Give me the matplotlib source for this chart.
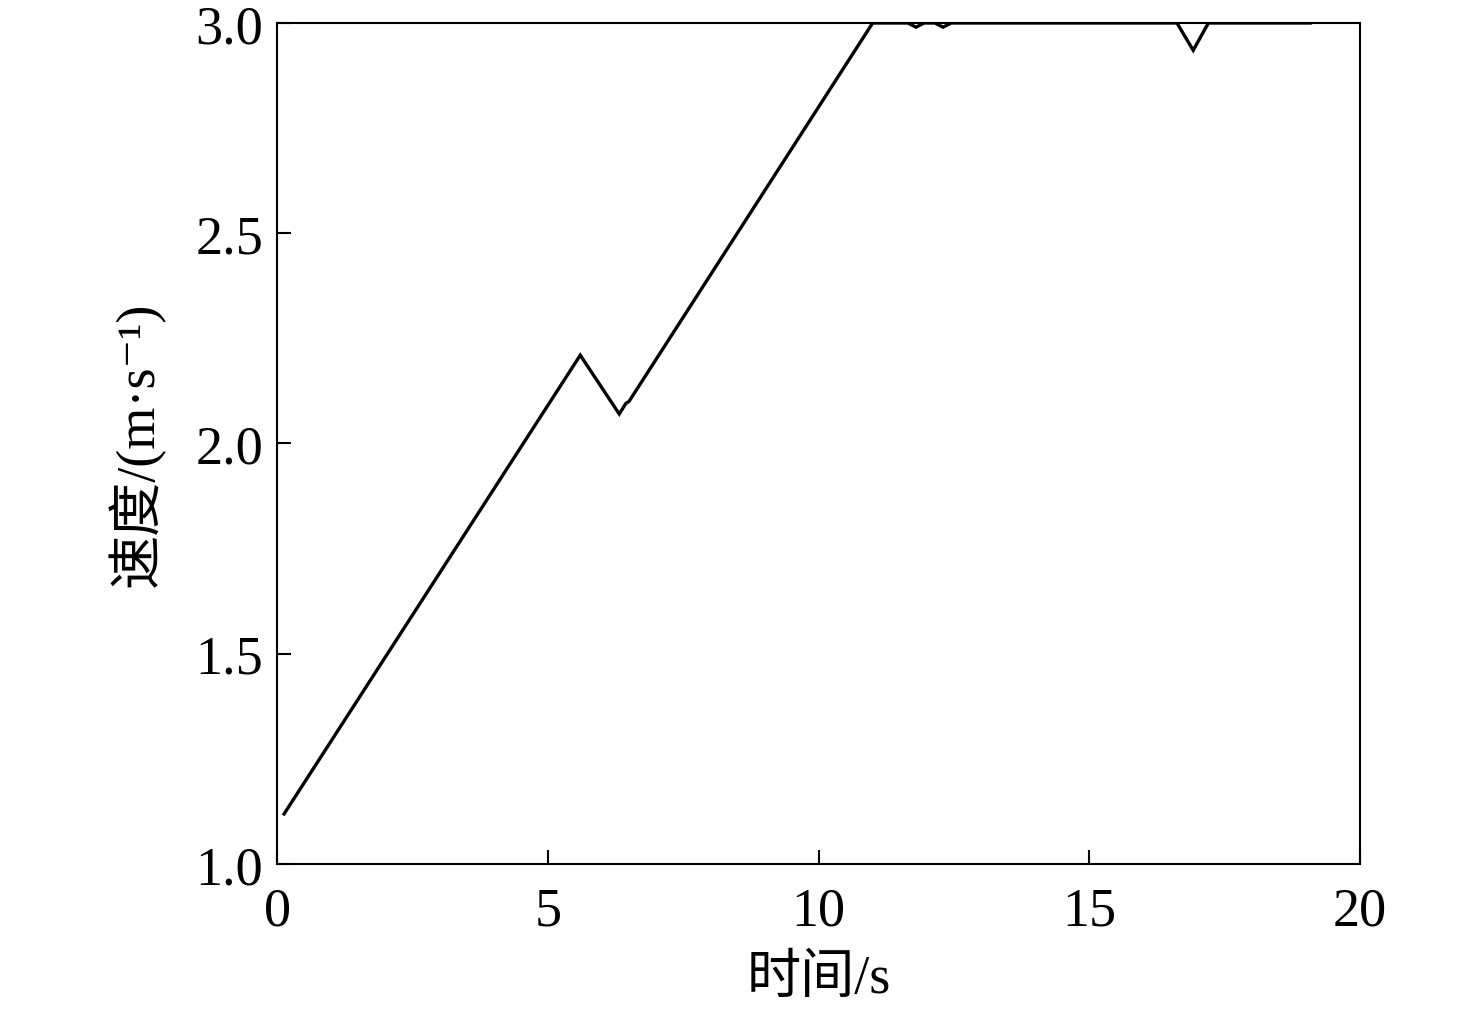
import numpy as np, matplotlib
matplotlib.use("Agg"); import matplotlib.pyplot as plt

plt.rcParams['font.family'] = ['Liberation Serif', 'Noto Sans CJK SC', 'DejaVu Serif']

# speed profile
t = [0.13, 5.6, 6.32, 6.44, 6.5, 11.0, 11.65, 11.8, 11.95, 12.15, 12.3, 12.45, 16.62, 16.92, 17.2, 19.08]
v = [1.119, 2.21, 2.07, 2.095, 2.10, 3.0, 3.0, 2.99, 3.0, 3.0, 2.99, 3.0, 3.0, 2.935, 3.0, 3.0]
xticks = [0, 5, 10, 15, 20]
yticks = [1.0, 1.5, 2.0, 2.5, 3.0]

fig = plt.figure(figsize=(14.76, 10.12), dpi=100)
ax = fig.add_axes([0.1877, 0.1453, 0.7337, 0.8310])
ax.plot(t, v, color="black", lw=2.4, solid_joinstyle="miter")
ax.set_xlim(0, 20); ax.set_ylim(1.0, 3.0)
ax.set_xticks(xticks); ax.set_yticks(yticks)
ax.set_xticklabels([str(x) for x in xticks])
ax.set_yticklabels([f"{y:.1f}" for y in yticks])
ax.tick_params(direction="in", length=10, width=1.5, labelsize=39, pad=10)
ax.tick_params(axis="x", pad=16)
for s in ax.spines.values(): s.set_linewidth(1.5)
ax.set_xlabel("时间/s", fontsize=39, labelpad=12)
ax.set_ylabel("速度/(m·s⁻¹)", fontsize=39, labelpad=22)
plt.savefig("out.png", dpi=100)
